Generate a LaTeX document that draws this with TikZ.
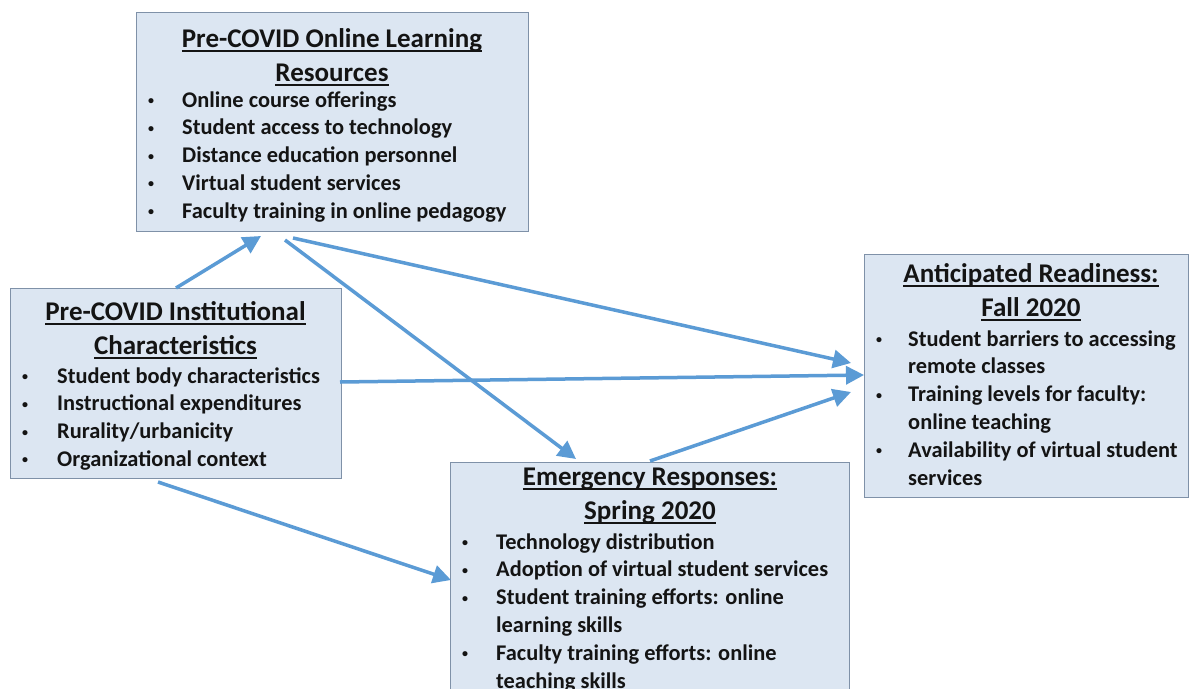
\documentclass[tikz,border=0pt]{standalone}
\usepackage{fontspec}
\setmainfont{Carlito}
\usetikzlibrary{arrows.meta}
\definecolor{boxfill}{HTML}{DCE6F2}
\definecolor{boxline}{HTML}{7F91A8}
\definecolor{arrowc}{HTML}{5B9BD5}
\definecolor{txt}{HTML}{141414}
\newcommand\ttl[1]{\leavevmode\setbox0\hbox{#1}\rlap{\rule[-4.5pt]{\wd0}{1.3pt}}\box0}
\newcommand\smallbul{\raisebox{2.6pt}{\fontsize{12}{12}\selectfont•}}
\newcommand\itm[2]{\noindent\makebox[#1][l]{\smallbul}#2\par}
\newcommand\cnt[2]{\noindent\hspace*{#1}#2\par}
\newcommand\titleblock[1]{\vtop{\hsize=420pt\parindent=0pt\parskip=0pt\centering\fontsize{27}{34}\selectfont #1\par}}
\newcommand\itemblock[1]{\vtop{\hsize=420pt\parindent=0pt\parskip=0pt\raggedright\fontsize{22.4}{27.8}\selectfont #1}}
\begin{document}
\begin{tikzpicture}[x=1pt,y=-1pt,
  box/.style={draw=boxline, line width=1pt, fill=boxfill, rectangle, inner sep=0pt, anchor=north west},
  ttlnode/.style={anchor=base, inner sep=0pt, text=txt, font=\bfseries},
  itemsnode/.style={anchor=base west, inner sep=0pt, text=txt, font=\bfseries},
  arr/.style={draw=arrowc, line width=3.5pt, -{Triangle[length=18pt,width=18pt]}}]
\useasboundingbox[fill=white] (0,0) rectangle (1190,688);

% boxes
\node[box, minimum width=392pt, minimum height=219pt] (res) at (136,12) {};
\node[box, minimum width=331pt, minimum height=190pt] (inst) at (10,288) {};
\node[box, minimum width=399pt, minimum height=250pt] (emer) at (450,462) {};
\node[box, minimum width=324pt, minimum height=243pt] (ant) at (864,254) {};

% titles
\node[ttlnode] (resT) at (332,47) {\titleblock{\ttl{Pre-COVID Online Learning}\\\ttl{Resources}}};
\node[ttlnode] (instT) at (175.5,320) {\titleblock{\ttl{Pre-COVID Institutional}\\\ttl{Characteristics}}};
\node[ttlnode] (emerT) at (650,485) {\titleblock{\ttl{Emergency Responses:}\\\ttl{Spring 2020}}};
\node[ttlnode] (antT) at (1031,282) {\titleblock{\ttl{Anticipated Readiness:}\\\ttl{Fall 2020}}};

% items
\node[itemsnode] (resI) at (148,107) {\itemblock{%
\itm{34pt}{Online course offerings}
\itm{34pt}{Student access to technology}
\itm{34pt}{Distance education personnel}
\itm{34pt}{Virtual student services}
\itm{34pt}{Faculty training in online pedagogy}}};
\node[itemsnode] (instI) at (22,383) {\itemblock{%
\itm{35pt}{Student body characteristics}
\itm{35pt}{Instructional expenditures}
\itm{35pt}{Rurality/urbanicity}
\itm{35pt}{Organizational context}}};
\node[itemsnode] (emerI) at (462,549) {\itemblock{%
\itm{34pt}{Technology distribution}
\itm{34pt}{Adoption of virtual student services}
\itm{34pt}{Student training efforts: online}
\cnt{34pt}{learning skills}
\itm{34pt}{Faculty training efforts: online}
\cnt{34pt}{teaching skills}}};
\node[itemsnode] (antI) at (876,346) {\itemblock{%
\itm{32pt}{Student barriers to accessing}
\cnt{32pt}{remote classes}
\itm{32pt}{Training levels for faculty:}
\cnt{32pt}{online teaching}
\itm{32pt}{Availability of virtual student}
\cnt{32pt}{services}}};

% connector end points
\coordinate (a1s) at (176,288);
\coordinate (a1e) at (261,236);
\coordinate (a2s) at (285,240);
\coordinate (a2e) at (576,459);
\coordinate (a3s) at (293,238);
\coordinate (a3e) at (851,363);
\coordinate (a4s) at (340,382);
\coordinate (a4e) at (864,375);
\coordinate (a5s) at (158,482);
\coordinate (a5e) at (451,580);
\coordinate (a6s) at (650,461);
\coordinate (a6e) at (851,392);

\draw[arr] (a1s) -- (a1e);
\draw[arr] (a2s) -- (a2e);
\draw[arr] (a3s) -- (a3e);
\draw[arr] (a4s) -- (a4e);
\draw[arr] (a5s) -- (a5e);
\draw[arr] (a6s) -- (a6e);
\end{tikzpicture}
\end{document}
